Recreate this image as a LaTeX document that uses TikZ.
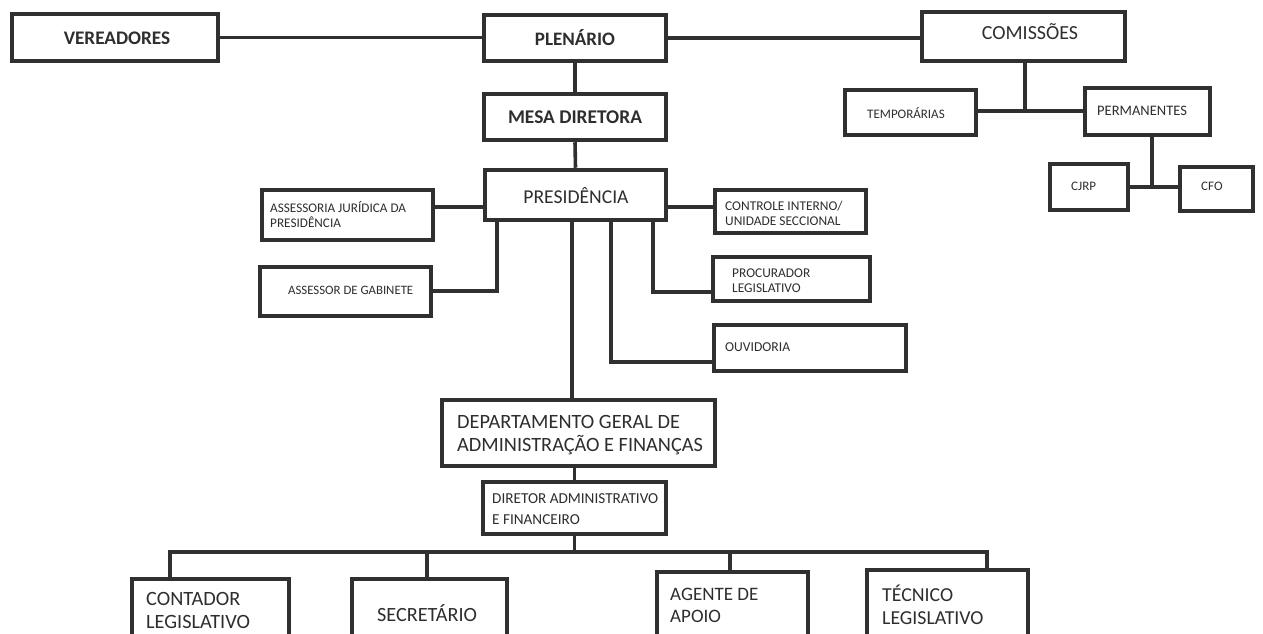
\documentclass[tikz,border=0pt]{standalone}
\usepackage{fontspec}
\setmainfont{Carlito}
\usetikzlibrary{calc}
\definecolor{bc}{HTML}{303030}
\definecolor{tc}{HTML}{2E2E2E}
\tikzset{
  box/.style={draw=bc, line width=4.5pt, inner sep=0pt, fill=white},
  conn/.style={draw=bc, line width=3.6pt},
  txt/.style={text=tc, inner sep=0pt, align=left},
  fs/.style 2 args={font=\fontsize{#1}{#2}\selectfont},
  bfs/.style 2 args={font=\fontsize{#1}{#2}\selectfont\bfseries},
}
\begin{document}
\begin{tikzpicture}[x=1pt,y=-1pt]
\useasboundingbox (0,0) rectangle (1263,634);
\clip (0,0) rectangle (1263,634);
\fill[white] (0,0) rectangle (1263,634);

\coordinate (cj) at (1025,111);
\coordinate (pj) at (1152,187);
\coordinate (aj) at (460,207);
\coordinate (gj) at (497,291);
\coordinate (prj) at (653,292);
\coordinate (oj) at (611,362);
\coordinate (cx) at (572,300);
\coordinate (b1) at (170,552);
\coordinate (b2) at (427,552);
\coordinate (b3) at (730,552);
\coordinate (b4) at (987,552);

% boxes
\node[box, minimum width=206, minimum height=47] (ver) at (115,37.5) {};
\node[box, minimum width=182, minimum height=46] (ple) at (575,38) {};
\node[box, minimum width=182, minimum height=46] (mesa) at (575,117) {};
\node[box, minimum width=203, minimum height=49] (com) at (1023.5,36.5) {};
\node[box, minimum width=131, minimum height=45] (temp) at (910.5,112.5) {};
\node[box, minimum width=125, minimum height=47] (perm) at (1147.5,111.5) {};
\node[box, minimum width=78, minimum height=46] (cjrp) at (1089,187) {};
\node[box, minimum width=73, minimum height=44] (cfo) at (1216.5,189) {};
\node[box, minimum width=181, minimum height=50] (pres) at (575.5,195) {};
\node[box, minimum width=171, minimum height=50] (asj) at (347.5,215) {};
\node[box, minimum width=171, minimum height=49] (asg) at (345.5,291.5) {};
\node[box, minimum width=151, minimum height=43] (cint) at (790.5,211.5) {};
\node[box, minimum width=157, minimum height=44] (proc) at (791.5,279) {};
\node[box, minimum width=192, minimum height=46] (ouv) at (810,348) {};
\node[box, minimum width=273, minimum height=66] (dep) at (578.5,433) {};
\node[box, minimum width=183, minimum height=52] (dir) at (574.5,508) {};
\node[box, minimum width=157, minimum height=69] (cont) at (210.5,613.5) {};
\node[box, minimum width=155, minimum height=69] (sec) at (429.5,613.5) {};
\node[box, minimum width=151, minimum height=76] (age) at (732.5,610) {};
\node[box, minimum width=161, minimum height=78] (tec) at (947.5,609) {};

% connectors
\draw[conn] (ver.east) -- (ver.east -| ple.west);
\draw[conn] (ple.east) -- (ple.east -| com.west);
\draw[conn] (ple.south) -- (mesa.north);
\draw[conn] (mesa.south) -- (pres.north);
\draw[conn] (com.south -| cj) -- (cj);
\draw[conn] (temp.east |- cj) -- (perm.west |- cj);
\draw[conn] (perm.south -| pj) -- (pj);
\draw[conn] (cjrp.east |- pj) -- (cfo.west |- pj);
\draw[conn] (aj -| asj.east) -- (aj -| pres.west);
\draw[conn] (aj -| pres.east) -- (aj -| cint.west);
\draw[conn] (gj -| asg.east) -- (gj) -- (gj |- pres.south);
\draw[conn] (prj |- pres.south) -- (prj) -- (prj -| proc.west);
\draw[conn] (oj |- pres.south) -- (oj) -- (oj -| ouv.west);
\draw[conn] (cx |- pres.south) -- (cx |- dep.north);
\draw[conn] (dir.north |- dep.south) -- (dir.north);
\draw[conn] (dir.south) -- (dir.south |- b1);
\draw[conn] (b1 |- cont.north) -- (b1) -- (b4) -- (b4 |- tec.north);
\draw[conn] (b2) -- (b2 |- sec.north);
\draw[conn] (b3) -- (b3 |- age.north);

% texts
\node[txt, bfs={19.2}{23}] (verT) at (117,38) {VEREADORES};
\node[txt, bfs={19}{23}] (pleT) at (575,38) {PLENÁRIO};
\node[txt, bfs={19.4}{23}] (mesaT) at (575,117) {MESA DIRETORA};
\node[txt, fs={20}{24}] (comT) at (1030,32) {COMISSÕES};
\node[txt, fs={13}{16}, anchor=west] (tempT) at (867,113) {TEMPORÁRIAS};
\node[txt, fs={14.5}{17}, anchor=west] (permT) at (1097,111) {PERMANENTES};
\node[txt, fs={13}{16}, anchor=west] (cjrpT) at (1071,186) {CJRP};
\node[txt, fs={13}{16}, anchor=west] (cfoT) at (1201,186) {CFO};
\node[txt, fs={19.6}{23}] (presT) at (576,196) {PRESIDÊNCIA};
\node[txt, fs={13.2}{15}, anchor=west] (asjT) at (270,215) {ASSESSORIA JURÍDICA DA\\PRESIDÊNCIA};
\node[txt, fs={12.8}{15}, anchor=west] (asgT) at (288,290) {ASSESSOR DE GABINETE};
\node[txt, fs={13.4}{15}, anchor=west] (cintT) at (725,213) {CONTROLE INTERNO/\\UNIDADE SECCIONAL};
\node[txt, fs={13.4}{15}, anchor=west] (procT) at (732,281) {PROCURADOR\\LEGISLATIVO};
\node[txt, fs={13.6}{15}, anchor=west] (ouvT) at (725,347) {OUVIDORIA};
\node[txt, fs={20.3}{23}, anchor=west] (depT) at (457,435) {DEPARTAMENTO GERAL DE\\ADMINISTRAÇÃO E FINANÇAS};
\node[txt, fs={15.2}{21}, anchor=west] (dirT) at (492,509) {DIRETOR ADMINISTRATIVO\\E FINANCEIRO};
\node[txt, fs={20.3}{23}, anchor=west] (contT) at (146,610) {CONTADOR\\LEGISLATIVO};
\node[txt, fs={20.2}{23}, anchor=west] (secT) at (377,613) {SECRETÁRIO};
\node[txt, fs={19}{22}, anchor=west] (ageT) at (670,605) {AGENTE DE\\APOIO};
\node[txt, fs={19.8}{23}, anchor=west] (tecT) at (882,605) {TÉCNICO\\LEGISLATIVO};
\end{tikzpicture}
\end{document}
